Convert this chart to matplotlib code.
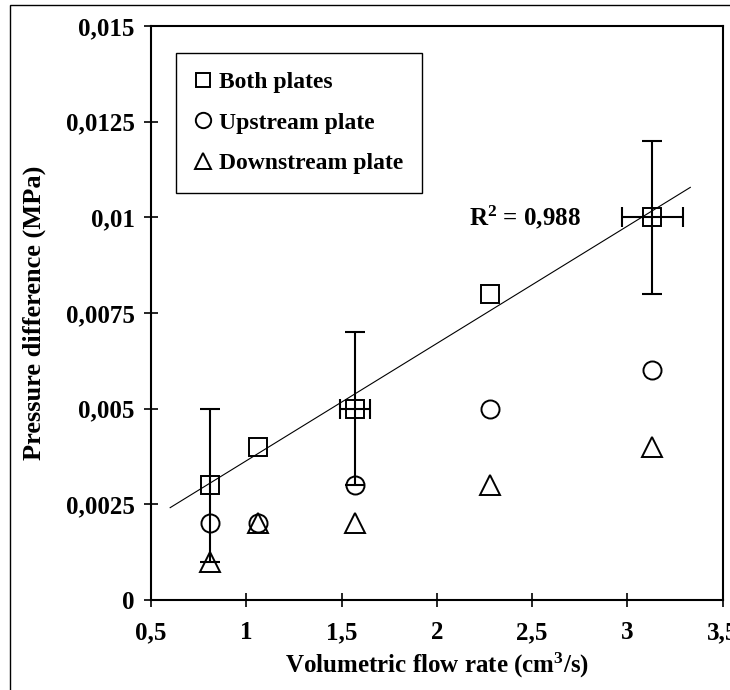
import numpy as np
import matplotlib
matplotlib.use("Agg")
import matplotlib.pyplot as plt
from matplotlib.patches import Rectangle
from matplotlib.ticker import MultipleLocator, FuncFormatter

# flow rate (cm3/s) and pressure difference (MPa)
flow = [0.81, 1.06, 1.57, 2.28, 3.13]
both_plates = [0.003, 0.004, 0.005, 0.008, 0.010]
upstream = [0.002, 0.002, 0.003, 0.005, 0.006]
downstream = [0.001, 0.002, 0.002, 0.003, 0.004]

# measurement uncertainty on the "both plates" runs
err_idx = [0, 2, 4]
err_dp = [0.002, 0.002, 0.002]
err_flow = [0.0, 0.08, 0.16]

fit_range = [0.6, 3.33]

plt.rcParams["font.family"] = ["Liberation Serif", "DejaVu Serif"]
plt.rcParams["font.weight"] = "bold"
plt.rcParams["mathtext.fontset"] = "custom"
plt.rcParams["mathtext.rm"] = "Liberation Serif:bold"
plt.rcParams["mathtext.bf"] = "Liberation Serif:bold"
plt.rcParams["mathtext.it"] = "Liberation Serif:bold"

fig = plt.figure(figsize=(7.3, 6.9), dpi=100)
ax = fig.add_axes([0.207, 0.1304, 0.783, 0.832])

mk = dict(linestyle="none", mfc="none", mec="black", mew=1.4)
ax.plot(flow, both_plates, marker="s", ms=12.5, label="Both plates", **mk)
ax.plot(flow, upstream, marker="o", ms=13, label="Upstream plate", **mk)
ax.plot(flow, downstream, marker="^", ms=14, label="Downstream plate", **mk)

ex = [flow[i] for i in err_idx]
ey = [both_plates[i] for i in err_idx]
ax.errorbar(ex, ey, yerr=err_dp, fmt="none", ecolor="black",
            elinewidth=1.5, capsize=7, capthick=1.5)
ax.errorbar(ex[1:], ey[1:], xerr=err_flow[1:], fmt="none", ecolor="black",
            elinewidth=1.5, capsize=7, capthick=1.5)

# linear trend line
slope, icpt = np.polyfit(flow, both_plates, 1)
pred = np.polyval([slope, icpt], flow)
yb = np.array(both_plates)
r2 = 1 - np.sum((yb - pred) ** 2) / np.sum((yb - yb.mean()) ** 2)
xs = np.array(fit_range)
ax.plot(xs, slope * xs + icpt, color="black", lw=0.8)
ax.text(2.17, 0.0100, "R$^2$ = " + f"{r2:.3f}".replace(".", ","),
        fontsize=18, fontweight="bold", va="center", ha="left")

ax.set_xlim(0.5, 3.5)
ax.set_ylim(0, 0.015)
ax.xaxis.set_major_locator(MultipleLocator(0.5))
ax.yaxis.set_major_locator(MultipleLocator(0.0025))
comma = FuncFormatter(lambda v, p: f"{v:g}".replace(".", ","))
ax.xaxis.set_major_formatter(comma)
ax.yaxis.set_major_formatter(comma)
ax.tick_params(direction="inout", length=10, width=1.2, labelsize=18)
ax.tick_params(axis="x", pad=10)
ax.tick_params(axis="y", pad=7)
for s in ax.spines.values():
    s.set_linewidth(1.5)

ax.set_xlabel("Volumetric flow rate (cm$^3$/s)", fontsize=18,
              fontweight="bold", labelpad=5)
ax.set_ylabel("Pressure difference (MPa)", fontsize=19, fontweight="bold",
              labelpad=14)

leg = ax.legend(loc="upper left", bbox_to_anchor=(0.044, 0.953),
                borderaxespad=0, fancybox=False, framealpha=1,
                edgecolor="black", fontsize=17, markerscale=0.85,
                handlelength=0.7, handletextpad=0.3, labelspacing=0.8,
                borderpad=0.8)
leg.get_frame().set_linewidth(1.0)

fig.add_artist(Rectangle((10 / 730, -0.01), 1.0, 0.01 + 1 - 5 / 690,
                         transform=fig.transFigure, fill=False,
                         edgecolor="black", lw=1.0))

fig.savefig("out.png", dpi=100)
